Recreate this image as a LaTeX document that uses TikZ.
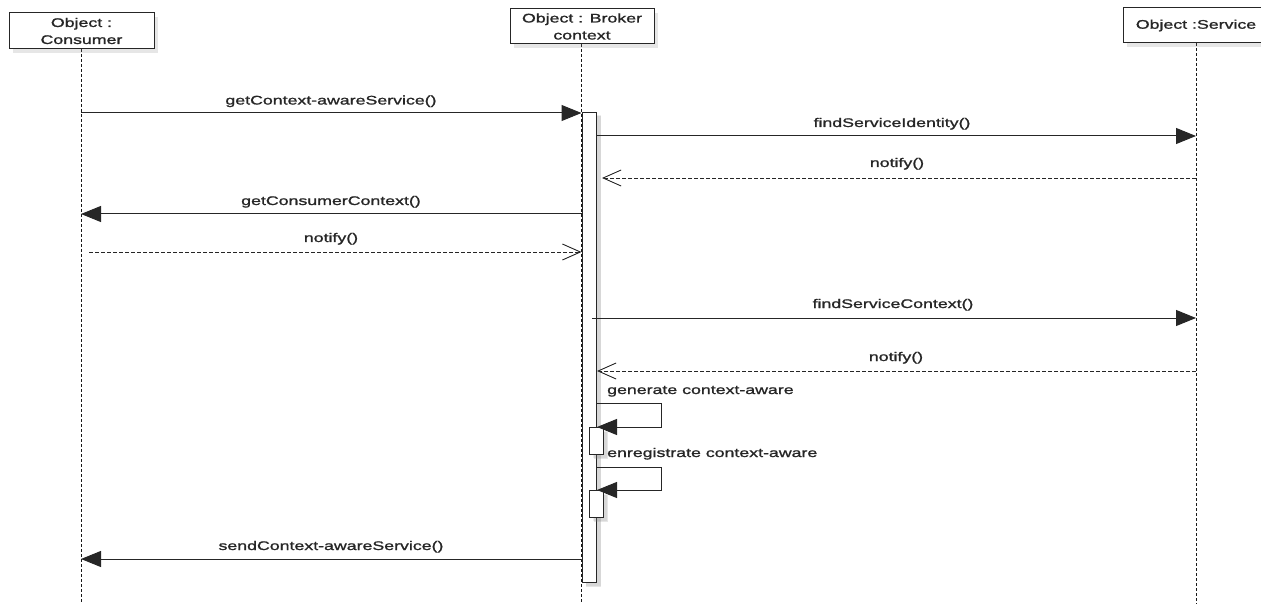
\documentclass[tikz,border=0pt]{standalone}
\usepackage{fontspec}
\setmainfont[FakeStretch=1.42,FakeBold=1.3]{Liberation Sans}
\usetikzlibrary{arrows.meta,shadows}
\begin{document}
\begin{tikzpicture}[x=1pt,y=-1pt,
  font=\fontsize{12.5}{17}\selectfont,
  obj/.style={draw=black!85, line width=1pt, fill=white,
    drop shadow={opacity=0.2,shadow xshift=4pt,shadow yshift=-4pt},
    inner sep=0pt, align=center, text=black!85},
  life/.style={draw=black!90, line width=0.9pt, dash pattern=on 3pt off 2pt},
  msg/.style={draw=black!85, line width=1pt, -{Triangle[length=20pt,width=16pt]}},
  ret/.style={draw=black!85, line width=0.9pt, dash pattern=on 4pt off 2pt,
    -{Straight Barb[length=18pt,width=16pt]}},
  self/.style={draw=black!85, line width=1pt, -{Triangle[length=20pt,width=16pt]}},
  lbl/.style={anchor=base, inner sep=0pt, text=black!85},
  slbl/.style={anchor=base west, inner sep=0pt, text=black!85}]
\useasboundingbox (0,0) rectangle (1261,604);
\clip (0,0) rectangle (1261,604);

% lifeline x positions
\coordinate (cx) at (81,0);
\coordinate (bx) at (581.5,0);
\coordinate (sx) at (1196,0);
\coordinate (cbot) at (81,604);
\coordinate (bbot) at (581.5,604);
\coordinate (sbot) at (1196,604);

% lifelines
\draw[life] (cx |- 0,49) -- (cbot);
\draw[life] (bx |- 0,44) -- (bbot);
\draw[life] (sx |- 0,43) -- (sbot);

% objects
\node[obj, minimum width=145pt, minimum height=36pt] (cons) at (81.5,31) {Object :\\Consumer};
\node[obj, minimum width=144pt, minimum height=35pt] (brok) at (582,26.5) {Object : Broker\\context};
\node[obj, minimum width=146pt, minimum height=35pt] (serv) at (1196,25.5) {Object :Service};

% activation bar
\node[obj, minimum width=14.5pt, minimum height=470pt, anchor=north west,
  drop shadow={opacity=0.14,shadow xshift=4pt,shadow yshift=-3pt}] (bar) at (581.5,112) {};

% small activation boxes
\node[obj, minimum width=14pt, minimum height=27pt, anchor=north west,
  drop shadow={opacity=0.14,shadow xshift=3pt,shadow yshift=-3pt}] (sb1) at (589,427) {};
\node[obj, minimum width=14pt, minimum height=27pt, anchor=north west,
  drop shadow={opacity=0.14,shadow xshift=3pt,shadow yshift=-3pt}] (sb2) at (589,490) {};

% messages
\draw[msg] (cx |- 0,113) -- (bx |- 0,113);
\node[lbl] (m1) at (331,104.5) {getContext-awareService()};

\draw[msg] (bar.east |- 0,136) -- (sx |- 0,136);
\node[lbl] (m2) at (892,127) {findServiceIdentity()};

\coordinate (r1) at (602,178);
\draw[ret] (sx |- 0,178) -- (r1);
\node[lbl] (m3) at (897,167) {notify()};

\draw[msg] (bx |- 0,214) -- (cx |- 0,214);
\node[lbl] (m4) at (331,205) {getConsumerContext()};

\coordinate (r2s) at (89,252);
\draw[ret] (r2s) -- (bx |- 0,252);
\node[lbl] (m5) at (331,242) {notify()};

\coordinate (f2s) at (592,318);
\draw[msg] (f2s) -- (sx |- 0,318);
\node[lbl] (m6) at (893,308) {findServiceContext()};

\coordinate (r3) at (597,371);
\draw[ret] (sx |- 0,371) -- (r3);
\node[lbl] (m7) at (896,361) {notify()};

% self messages
\node[slbl] (m8) at (607,394) {generate context-aware};
\coordinate (s1a) at (597,403);
\coordinate (s1t) at (597,427);
\draw[self] (s1a) -- (661,403) -- (661,427) -- (s1t);

\node[slbl] (m9) at (607,457) {enregistrate context-aware};
\coordinate (s2a) at (597,467);
\coordinate (s2t) at (597,490);
\draw[self] (s2a) -- (661,467) -- (661,490) -- (s2t);

\draw[msg] (bx |- 0,559) -- (cx |- 0,559);
\node[lbl] (m10) at (331,550) {sendContext-awareService()};
\end{tikzpicture}
\end{document}
